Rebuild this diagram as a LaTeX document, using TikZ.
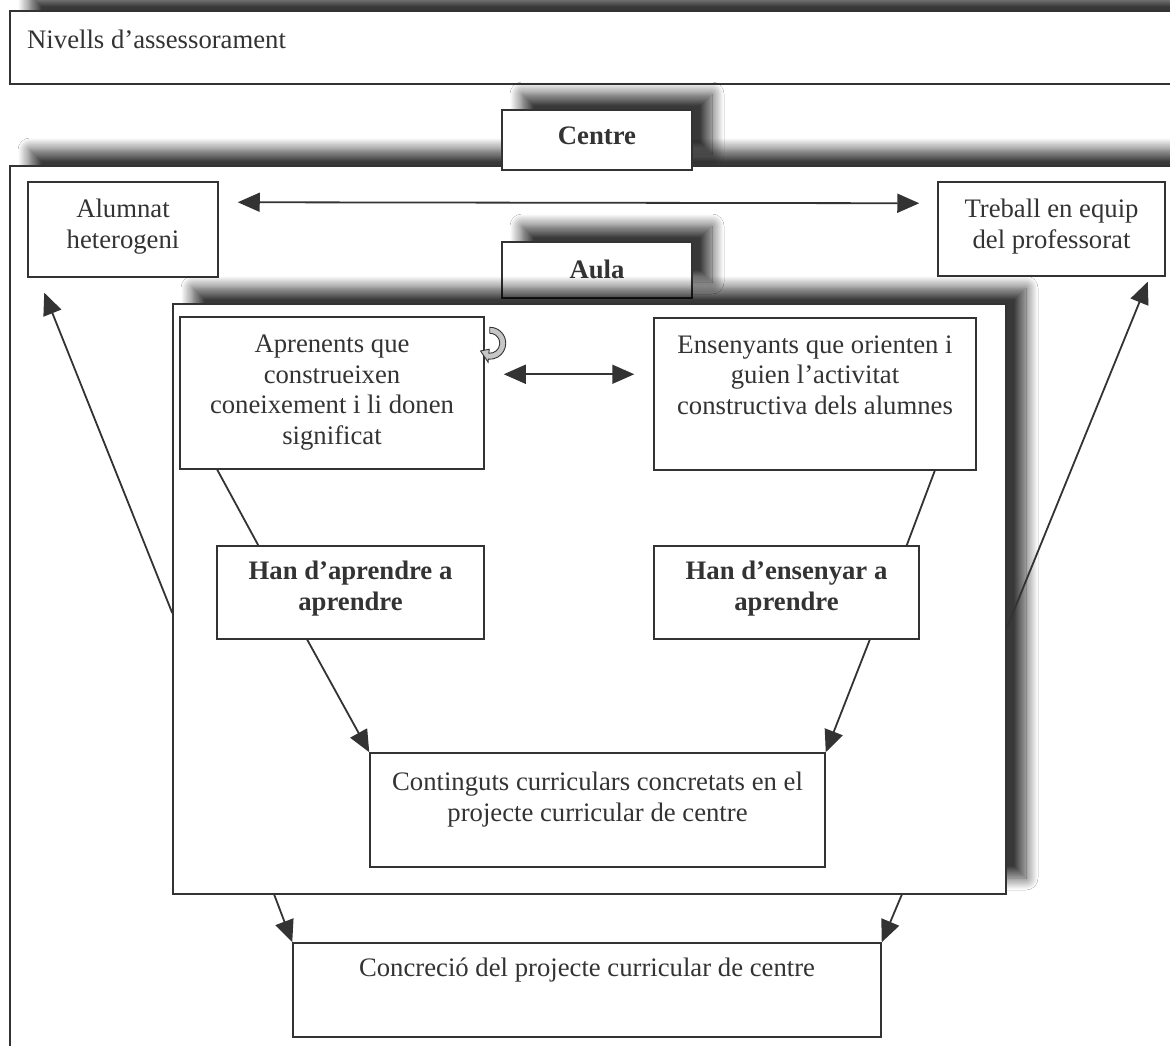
\documentclass[tikz,border=0pt]{standalone}
\usepackage{fontspec}
\setmainfont{Liberation Serif}
\usetikzlibrary{arrows.meta,shadows.blur,calc}
\definecolor{ink}{HTML}{333333}
\begin{document}
\begin{tikzpicture}[x=1pt,y=-1pt,
  box/.style={draw=ink, line width=1.5pt, fill=white, inner sep=0pt, rectangle},
  shbox/.style={box, blur shadow={shadow xshift=20pt, shadow yshift=16pt, shadow blur radius=12pt, shadow blur steps=16, shadow opacity=78}},
  txt/.style={font=\fontsize{26.7}{30.5}\selectfont, text=ink, align=center, inner sep=0pt},
  btxt/.style={txt, font=\fontsize{26.7}{30.5}\selectfont\bfseries},
  arr/.style={draw=ink, line width=1.8pt, -{Triangle[length=22pt,width=19pt]}},
  darr/.style={draw=ink, line width=1.8pt, {Triangle[length=22pt,width=19pt]}-{Triangle[length=22pt,width=19pt]}},
  ln/.style={draw=ink, line width=1.8pt}]
\useasboundingbox (0,0) rectangle (1170,1046);
\clip (0,0) rectangle (1170,1046);
\fill[white] (0,0) rectangle (1170,1046);

% levels
\node[shbox, minimum width=1180pt, minimum height=73pt] (nivells) at (600,47.5) {};
\node[txt, anchor=base west] (tniv) at (27,49) {Nivells d’assessorament};

\node[shbox, minimum width=1180pt, minimum height=914pt] (outer) at (600,623) {};
\node[shbox, minimum width=190pt, minimum height=60pt] (centre) at (597,140) {};
\node[btxt, anchor=base] (tcentre) at (597,145) {Centre};

\node[box, minimum width=190pt, minimum height=95pt] (alumnat) at (123,229.5) {};
\node[txt, anchor=base] (talumnat) at (123,248) {Alumnat\\heterogeni};
\node[box, minimum width=227pt, minimum height=94pt] (treball) at (1051.5,229) {};
\node[txt, anchor=base] (ttreball) at (1051.5,248) {Treball en equip\\del professorat};

\node[shbox, minimum width=190pt, minimum height=56pt] (aula) at (597,270) {};
\node[btxt, anchor=base] (taula) at (597,278) {Aula};

\node[shbox, minimum width=833pt, minimum height=590pt] (inner) at (589.5,599) {};

\node[box, minimum width=304pt, minimum height=152pt] (aprenents) at (332,393) {};
\node[txt, anchor=base] (taprenents) at (332,444) {Aprenents que\\construeixen\\coneixement i li donen\\significat};
\node[box, minimum width=322pt, minimum height=152pt] (ensenyants) at (815,394) {};
\node[txt, anchor=base] (tensenyants) at (815,414) {Ensenyants que orienten i\\guien l’activitat\\constructiva dels alumnes};

\node[box, minimum width=267pt, minimum height=93pt] (handapr) at (350.5,592.5) {};
\node[btxt, anchor=base] (thandapr) at (350.5,610) {Han d’aprendre a\\aprendre};
\node[box, minimum width=265pt, minimum height=93pt] (handens) at (786.5,592.5) {};
\node[btxt, anchor=base] (thandens) at (786.5,610) {Han d’ensenyar a\\aprendre};

\node[box, minimum width=455pt, minimum height=114pt] (continguts) at (597.5,810) {};
\node[txt, anchor=base] (tcontinguts) at (597.5,821) {Continguts curriculars concretats en el\\projecte curricular de centre};

\node[box, minimum width=588pt, minimum height=94pt] (concrecio) at (587,990) {};
\node[txt, anchor=base] (tconcrecio) at (587,976) {Concreció del projecte curricular de centre};

% curl icon
\coordinate (c) at ($(aprenents.north east)+(5,27)$);
\filldraw[fill=gray!45, draw=ink, line width=0.9pt]
  ($(c)+(-90:16)$) arc[start angle=-90, end angle=95, radius=16]
  -- ($(c)+(95:19)$) -- ($(c)+(140:12)$) -- ($(c)+(95:6)$) -- ($(c)+(95:10)$)
  arc[start angle=95, end angle=-90, radius=10] -- cycle;

% connectors
\draw[darr] ($(alumnat.north east)+(19,21)$) -- ($(treball.north west)+(-18,22)$);
\draw[darr] ($(aprenents.north east)+(19,58)$) -- ($(ensenyants.north west)+(-19,57)$);
\draw[arr] (inner.west |- 0,613) -- ($(alumnat.south west)+(17,15)$);
\draw[arr] (inner.east |- 0,628) -- ($(treball.south east)+(-18,5)$);
\draw[ln] ($(aprenents.south west)+(38,0)$) -- ($(handapr.north west)+(42,0)$);
\draw[ln] ($(ensenyants.south east)+(-42,0)$) -- ($(handens.north east)+(-13,0)$);
\draw[arr] ($(handapr.south west)+(91,0)$) -- (continguts.north west);
\draw[arr] ($(handens.south east)+(-50,0)$) -- (continguts.north east);
\draw[arr] ($(inner.south west)+(102,0)$) -- (concrecio.north west);
\draw[arr] ($(inner.south east)+(-105,0)$) -- (concrecio.north east);
\end{tikzpicture}
\end{document}
